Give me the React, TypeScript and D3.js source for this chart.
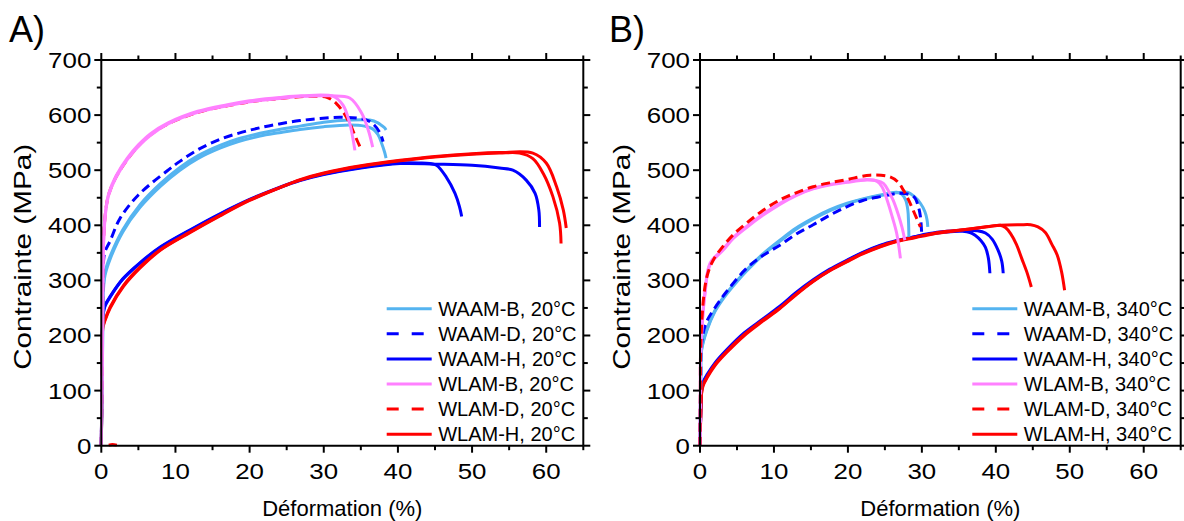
import React from "react";
import * as d3 from "d3";

type Pt = [number, number];

// ---------- axis ticks ----------
const X_TICKS = [0, 10, 20, 30, 40, 50, 60];
const X_MINOR = [5, 15, 25, 35, 45, 55, 65];
const Y_TICKS = [0, 100, 200, 300, 400, 500, 600, 700];
const Y_MINOR = [50, 150, 250, 350, 450, 550, 650];

// ---------- legend ----------
const SERIES_NAMES = ["WAAM-B", "WAAM-D", "WAAM-H", "WLAM-B", "WLAM-D", "WLAM-H"];
const TEMPS = ["20°C", "340°C"];

// ---------- Panel A (20 °C) ----------
const A_WAAM_B_1: Pt[] = [[0, 0], [0.15, 150], [0.3, 292], [0.5, 315], [1.2, 344], [2.9, 392], [5.2, 437], [8, 476], [10.6, 505], [13, 526], [16, 545], [18.5, 557], [21.4, 567], [24, 574], [26.8, 580], [30, 587], [33.5, 591], [36.2, 591], [37.3, 586], [37.8, 581], [38.2, 577], [38.4, 573]];
const A_WAAM_B_2: Pt[] = [[0, 0], [0.15, 145], [0.3, 285], [0.5, 309], [1.2, 339], [2.9, 388], [5.2, 432], [8, 471], [10.6, 500], [13, 521], [16, 540], [18.5, 552], [21.4, 562], [24, 568], [26.8, 574], [30, 579], [33.5, 582], [35.5, 580], [36.6, 575], [37.3, 565], [37.8, 549], [38.2, 533], [38.4, 522]];
const A_WAAM_D_1: Pt[] = [[0, 0], [0.15, 200], [0.3, 335], [0.5, 352], [1.2, 372], [2.5, 412], [5, 455], [8.9, 499], [10.6, 516], [13, 537], [16, 556], [19, 569], [21.4, 577], [24, 584], [26.8, 590], [29.5, 594], [32.6, 596], [35.8, 591], [36.8, 582], [37.6, 567], [38, 552]];
const A_WAAM_H_1: Pt[] = [[0, 0], [0.1, 120], [0.25, 240], [0.5, 255], [1.2, 271], [2.9, 303], [5.2, 332], [8, 361], [12, 392], [16, 421], [20, 447], [24, 469], [26.8, 482], [30, 493], [35, 505], [40.3, 513], [43, 513], [44.3, 512], [45.2, 509], [46.5, 488], [47.7, 458], [48.3, 434], [48.6, 416]];
const A_WAAM_H_2: Pt[] = [[0, 0], [0.1, 118], [0.25, 238], [0.5, 253], [1.2, 270], [2.9, 302], [5.2, 331], [8, 360], [12, 391], [16, 420], [20, 446], [24, 468], [26.8, 481], [30, 492], [35, 504], [40.3, 512], [45, 511], [50, 509], [53.7, 504], [55.5, 500], [57.3, 482], [58.5, 458], [59, 428], [59.1, 397]];
const A_WLAM_B_1: Pt[] = [[0, 0], [0.15, 180], [0.3, 370], [0.6, 428], [1, 458], [2, 490], [3.5, 522], [5, 546], [6.6, 566], [9, 586], [13, 607], [17, 619], [20, 626], [24, 632], [27, 635], [31.3, 634], [32.6, 618], [33.5, 585], [34.2, 536]];
const A_WLAM_B_2: Pt[] = [[0, 0], [0.15, 175], [0.3, 365], [0.6, 425], [1, 455], [2, 487], [3.5, 519], [5, 543], [6.6, 563], [9, 584], [13, 605], [17, 617], [20, 624], [24, 630], [27, 634], [31, 635], [33.5, 631], [35.1, 604], [36, 573], [36.6, 542]];
const A_WLAM_D_1: Pt[] = [[0, 0], [0.15, 200], [0.3, 372], [0.6, 427], [1, 456], [2, 488], [3.5, 519], [5, 544], [6.6, 564], [9, 584], [13, 605], [17, 617], [20, 624], [24, 630], [28, 634], [30.5, 632], [31.7, 621], [32.6, 606], [33.5, 585], [34.3, 560], [35.1, 536]];
const A_WLAM_D_2: Pt[] = [[1.0, 1], [1.5, 2], [2.1, 1]];
const A_WLAM_H_1: Pt[] = [[0, 0], [0.1, 110], [0.2, 215], [0.5, 229], [1.2, 252], [3, 291], [5.2, 324], [8, 356], [12, 388], [16, 418], [20, 446], [24, 468], [26.8, 482], [30, 494], [35, 507], [40.3, 517], [45, 524], [50, 529], [53.7, 531], [56.4, 531], [58.2, 521], [59.6, 494], [60.9, 452], [61.8, 404], [62, 367]];
const A_WLAM_H_2: Pt[] = [[0, 0], [0.1, 108], [0.2, 212], [0.5, 227], [1.2, 250], [3, 289], [5.2, 322], [8, 355], [12, 387], [16, 417], [20, 445], [24, 468], [26.8, 483], [30, 495], [35, 508], [40.3, 518], [45, 525], [50, 530], [53.7, 532], [58.2, 531], [60, 513], [61.4, 470], [62.3, 428], [62.7, 395]];

// ---------- Panel B (340 °C) ----------
const B_WAAM_B_1: Pt[] = [[0, 0], [0.1, 120], [0.2, 174], [0.9, 210], [2, 245], [3.2, 270], [4.7, 295], [6.3, 319], [8.5, 348], [10.8, 373], [13, 395], [15.3, 413], [17.5, 428], [19.9, 440], [22, 448], [24.4, 455], [26.6, 460], [27.3, 456], [27.8, 446], [28.1, 428], [28.2, 405], [28.25, 379]];
const B_WAAM_B_2: Pt[] = [[0, 0], [0.1, 118], [0.2, 172], [0.9, 208], [2, 243], [3.2, 268], [4.7, 293], [6.3, 317], [8.5, 346], [10.8, 371], [13, 393], [15.3, 411], [17.5, 426], [19.9, 439], [22, 447], [24.4, 454], [26.6, 459], [28, 460], [29, 452], [29.8, 440], [30.4, 425], [30.7, 410], [30.8, 397]];
const B_WAAM_D_1: Pt[] = [[0, 0], [0.1, 120], [0.25, 190], [0.9, 225], [2, 250], [3.5, 278], [6.3, 322], [8.5, 345], [10.8, 364], [13, 384], [15.3, 401], [17.5, 418], [19.9, 434], [22, 445], [24.4, 452], [27.1, 458], [28.9, 452], [29.5, 435], [29.8, 416], [30, 379]];
const B_WAAM_H_1: Pt[] = [[0, 0], [0.1, 60], [0.2, 100], [0.4, 115], [1, 130], [2, 150], [3.6, 174], [6, 205], [8.5, 230], [10.8, 253], [13, 278], [15.3, 301], [17.5, 320], [19.9, 337], [22, 351], [24.4, 364], [26.5, 372], [28.9, 379], [31, 384], [33.4, 388], [35.5, 389], [36.5, 387], [37.2, 382], [38, 372], [38.6, 360], [39, 340], [39.2, 313]];
const B_WAAM_H_2: Pt[] = [[0, 0], [0.1, 58], [0.2, 98], [0.4, 113], [1, 128], [2, 148], [3.6, 172], [6, 203], [8.5, 228], [10.8, 251], [13, 276], [15.3, 299], [17.5, 318], [19.9, 336], [22, 350], [24.4, 363], [26.5, 371], [28.9, 379], [31, 385], [33.4, 389], [35.6, 391], [37.5, 390], [38.6, 386], [39.5, 375], [40.3, 355], [40.8, 335], [41, 313]];
const B_WLAM_B_1: Pt[] = [[0, 0], [0.05, 100], [0.1, 174], [0.7, 282], [1.35, 331], [3.2, 358], [4.5, 378], [6.3, 398], [8.5, 420], [10.8, 440], [13, 455], [15.3, 467], [17.5, 474], [19.9, 479], [22.6, 483], [23.9, 480], [24.6, 470], [25.3, 446], [26, 415], [26.6, 385], [27.1, 340]];
const B_WLAM_B_2: Pt[] = [[0, 0], [0.05, 98], [0.1, 170], [0.7, 279], [1.35, 328], [3.2, 356], [4.5, 376], [6.3, 396], [8.5, 418], [10.8, 438], [13, 454], [15.3, 466], [17.5, 473], [19.9, 478], [22.6, 482], [23.9, 481], [24.8, 476], [25.5, 462], [26.1, 446], [26.8, 420], [27.3, 397], [27.7, 373]];
const B_WLAM_D_1: Pt[] = [[0, 0], [0.05, 100], [0.1, 180], [0.5, 270], [1, 310], [1.8, 337], [3, 360], [4.5, 383], [6.3, 404], [8.5, 427], [10.8, 446], [13, 459], [15.3, 470], [17.5, 477], [19.9, 483], [23, 491], [25.7, 488], [26.8, 478], [27.5, 464], [28.2, 446], [28.8, 428], [29.8, 397]];
const B_WLAM_H_1: Pt[] = [[0, 0], [0.1, 55], [0.2, 95], [0.4, 110], [1, 126], [2, 147], [3.6, 171], [6, 202], [8.5, 228], [10.8, 250], [13, 275], [15.3, 299], [17.5, 318], [19.9, 335], [22, 349], [24.4, 362], [26.5, 371], [28.9, 378], [31, 384], [33.4, 389], [35.6, 392], [38, 396], [39.2, 398], [40.6, 400], [41.3, 396], [42, 385], [42.8, 365], [43.5, 340], [44.2, 315], [44.8, 288]];
const B_WLAM_H_2: Pt[] = [[0, 0], [0.1, 53], [0.2, 93], [0.4, 108], [1, 124], [2, 145], [3.6, 169], [6, 200], [8.5, 226], [10.8, 249], [13, 274], [15.3, 298], [17.5, 317], [19.9, 334], [22, 348], [24.4, 361], [26.5, 370], [28.9, 377], [31, 383], [33.4, 388], [35.6, 392], [38, 396], [40.6, 400], [43.3, 401], [44.7, 401], [45.7, 397], [46.7, 387], [47.6, 365], [48.3, 346], [48.9, 315], [49.3, 282]];

// replicates per legend entry (same order as SERIES_NAMES)
const PANEL_A_DATA: Pt[][][] = [
  [A_WAAM_B_1, A_WAAM_B_2],
  [A_WAAM_D_1],
  [A_WAAM_H_1, A_WAAM_H_2],
  [A_WLAM_B_1, A_WLAM_B_2],
  [A_WLAM_D_1, A_WLAM_D_2],
  [A_WLAM_H_1, A_WLAM_H_2],
];
const PANEL_B_DATA: Pt[][][] = [
  [B_WAAM_B_1, B_WAAM_B_2],
  [B_WAAM_D_1],
  [B_WAAM_H_1, B_WAAM_H_2],
  [B_WLAM_B_1, B_WLAM_B_2],
  [B_WLAM_D_1],
  [B_WLAM_H_1, B_WLAM_H_2],
];

// ---------- styles ----------
const STYLE = [
  { color: "#55B4F0", dash: false },
  { color: "#0000FF", dash: true },
  { color: "#0000FF", dash: false },
  { color: "#FF80FF", dash: false },
  { color: "#FF0000", dash: true },
  { color: "#FF0000", dash: false },
];
const DRAW_ORDER_A = [2, 5, 0, 1, 4, 3];
const DRAW_ORDER_B = [2, 5, 0, 1, 3, 4];

const FONT = "'Liberation Sans', Arial, Helvetica, sans-serif";
const TOP = 60;
const BOTTOM = 445.7;
const DIGIT_W = 14.4;

interface PanelProps {
  left: number;
  right: number;
  tag: string;
  tagX: number;
  temp: string;
  data: Pt[][][];
  order: number[];
  legendX: number;
}

function Panel({ left, right, tag, tagX, temp, data, order, legendX }: PanelProps) {
  const x = d3.scaleLinear().domain([0, 65]).range([left, right]);
  const y = d3.scaleLinear().domain([0, 700]).range([BOTTOM, TOP]);
  const line = d3
    .line<Pt>()
    .x((d) => x(d[0]))
    .y((d) => y(d[1]))
    .curve(d3.curveCatmullRom.alpha(0.5));
  const major = 7;
  const minor = 4.5;
  const legendY0 = 308.7;
  const legendStep = 25.1;
  return (
    <g>
      <text x={tagX} y={42} fontSize={36} fontFamily={FONT} fill="#000">
        {tag}
      </text>
      {/* curves */}
      <g fill="none" strokeLinejoin="round">
        {order.map((si) =>
          data[si].map((rep, ri) => (
            <path
              key={`${si}-${ri}`}
              d={line(rep) || ""}
              stroke={STYLE[si].color}
              strokeWidth={3}
              strokeDasharray={STYLE[si].dash ? "9,5" : undefined}
            />
          ))
        )}
      </g>
      {/* axes frame */}
      <g stroke="#000" strokeWidth={2} fill="none">
        <line x1={left} x2={right} y1={BOTTOM} y2={BOTTOM} />
        <line x1={left} x2={right} y1={TOP} y2={TOP} />
        <line x1={left} x2={left} y1={TOP} y2={BOTTOM} />
        <line x1={right} x2={right} y1={TOP} y2={BOTTOM} />
        {X_TICKS.map((t) => (
          <g key={`xt${t}`}>
            <line x1={x(t)} x2={x(t)} y1={BOTTOM} y2={BOTTOM + major} />
            <line x1={x(t)} x2={x(t)} y1={TOP} y2={TOP - major} />
          </g>
        ))}
        {X_MINOR.map((t) => (
          <g key={`xm${t}`}>
            <line x1={x(t)} x2={x(t)} y1={BOTTOM} y2={BOTTOM + minor} />
            <line x1={x(t)} x2={x(t)} y1={TOP} y2={TOP - minor} />
          </g>
        ))}
        {Y_TICKS.map((t) => (
          <g key={`yt${t}`}>
            <line x1={left} x2={left - major} y1={y(t)} y2={y(t)} />
            <line x1={right} x2={right + major} y1={y(t)} y2={y(t)} />
          </g>
        ))}
        {Y_MINOR.map((t) => (
          <g key={`ym${t}`}>
            <line x1={left} x2={left - minor} y1={y(t)} y2={y(t)} />
            <line x1={right} x2={right + minor} y1={y(t)} y2={y(t)} />
          </g>
        ))}
      </g>
      {/* tick labels */}
      <g fontFamily={FONT} fontSize={22} fill="#000">
        {X_TICKS.map((t) => (
          <text
            key={`xl${t}`}
            x={x(t)}
            y={479}
            textAnchor="middle"
            textLength={String(t).length * DIGIT_W}
            lengthAdjust="spacingAndGlyphs"
          >
            {t}
          </text>
        ))}
        {Y_TICKS.map((t) => (
          <text
            key={`yl${t}`}
            x={left - 10}
            y={y(t)}
            dy="0.36em"
            textAnchor="end"
            textLength={String(t).length * DIGIT_W}
            lengthAdjust="spacingAndGlyphs"
          >
            {t}
          </text>
        ))}
      </g>
      {/* axis titles */}
      <text
        x={(left + right) / 2}
        y={516}
        textAnchor="middle"
        fontFamily={FONT}
        fontSize={22}
        fill="#000"
      >
        Déformation (%)
      </text>
      <text
        transform={`translate(${left - 70},${(TOP + BOTTOM) / 2 + 4}) rotate(-90)`}
        textAnchor="middle"
        fontFamily={FONT}
        fontSize={24}
        textLength={226}
        lengthAdjust="spacingAndGlyphs"
        fill="#000"
      >
        Contrainte (MPa)
      </text>
      {/* legend */}
      <g fontFamily={FONT} fontSize={20} fill="#000">
        {SERIES_NAMES.map((name, i) => (
          <g key={name}>
            <line
              x1={legendX}
              x2={legendX + 45}
              y1={legendY0 + i * legendStep}
              y2={legendY0 + i * legendStep}
              stroke={STYLE[i].color}
              strokeWidth={3}
              strokeDasharray={STYLE[i].dash ? "12,13" : undefined}
            />
            <text x={legendX + 51.5} y={legendY0 + i * legendStep} dy="0.36em">
              {`${name}, ${temp}`}
            </text>
          </g>
        ))}
      </g>
    </g>
  );
}

export default function App() {
  return (
    <svg
      width={1184}
      height={521}
      viewBox="0 0 1184 521"
      style={{ position: "absolute", left: 0, top: 0, background: "#fff" }}
    >
      <rect width={1184} height={521} fill="#fff" />
      <Panel
        left={101.3}
        right={583.3}
        tag="A)"
        tagX={9}
        temp={TEMPS[0]}
        data={PANEL_A_DATA}
        order={DRAW_ORDER_A}
        legendX={386.7}
      />
      <Panel
        left={700}
        right={1180.7}
        tag="B)"
        tagX={609}
        temp={TEMPS[1]}
        data={PANEL_B_DATA}
        order={DRAW_ORDER_B}
        legendX={972.3}
      />
    </svg>
  );
}
